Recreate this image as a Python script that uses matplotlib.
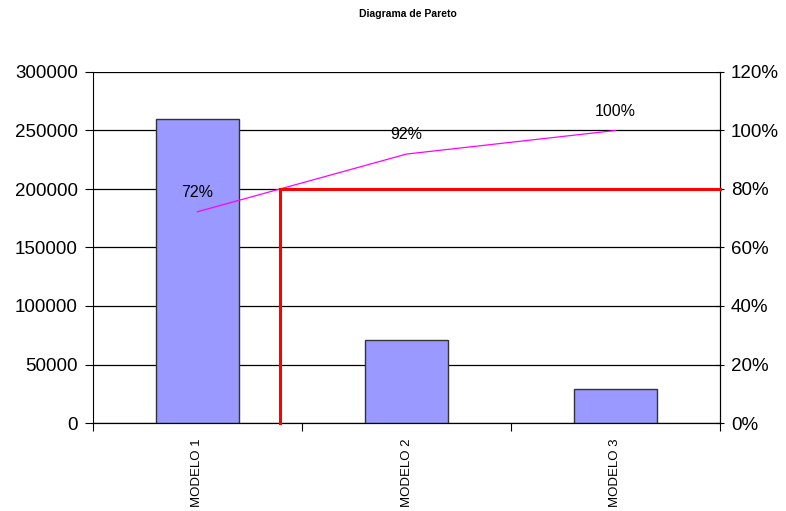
import numpy as np
import matplotlib.pyplot as plt
from matplotlib.ticker import FuncFormatter

# datos del diagrama
modelos = ["MODELO 1", "MODELO 2", "MODELO 3"]
ventas = [260000, 71000, 29000]
etiquetas_acum = ["72%", "92%", "100%"]

plt.rcParams['font.family'] = ['Liberation Sans', 'DejaVu Sans']

fig = plt.figure(figsize=(7.86, 5.11), dpi=100)
ax = fig.add_axes([93 / 786, 1 - 423 / 511, (720 - 93) / 786, (423 - 72) / 511])

x = np.arange(len(modelos))
ax.bar(x, ventas, width=0.4, color="#9999FF", edgecolor="#333333", linewidth=1, zorder=3)

ax.set_xlim(-0.5, 2.5)
ax.set_ylim(0, 300000)
ax.set_yticks(np.arange(0, 300001, 50000))
ax.yaxis.grid(True, color="black", linewidth=0.9)
ax.set_axisbelow(True)

# ticks del eje x en los limites de cada categoria
ax.set_xticks(np.arange(-0.5, 2.6, 1.0))
ax.set_xticklabels([])
ax.set_xticks(x, minor=True)
ax.set_xticklabels(modelos, minor=True, rotation=90, fontsize=9.5, va="top")
ax.tick_params(axis="x", which="minor", length=0, pad=11)
ax.tick_params(axis="x", which="major", length=6, direction="out")
ax.tick_params(axis="y", labelsize=13.5, length=6, pad=5, colors="black")
ax.spines["top"].set_visible(False)

# porcentaje acumulado en el eje secundario
ax2 = ax.twinx()
acum = np.cumsum(ventas) / np.sum(ventas) * 100
ax2.plot(x, acum, color="#FF00FF", linewidth=0.9, zorder=4)
for xi, yi, t in zip(x, acum, etiquetas_acum):
    ax2.text(xi, yi + 4, t, ha="center", va="bottom", fontsize=11.5)

# linea del 80%
corte = np.interp(80, acum, x)
ax2.plot([corte, corte, 2.5], [0, 80, 80], color="red", linewidth=2.2,
         solid_joinstyle="miter", clip_on=False, zorder=5)

ax2.set_ylim(0, 120)
ax2.set_yticks(np.arange(0, 121, 20))
ax2.yaxis.set_major_formatter(FuncFormatter(lambda v, p: "%d%%" % v))
ax2.tick_params(axis="y", labelsize=13.5, length=6, direction="inout", pad=5)
ax2.spines["top"].set_visible(False)
ax2.spines["left"].set_visible(False)

fig.text(408 / 786, 1 - 14 / 511, "Diagrama de Pareto", ha="center", va="center",
         fontsize=7.5, fontweight="bold")

fig.savefig("out.png", dpi=100)
